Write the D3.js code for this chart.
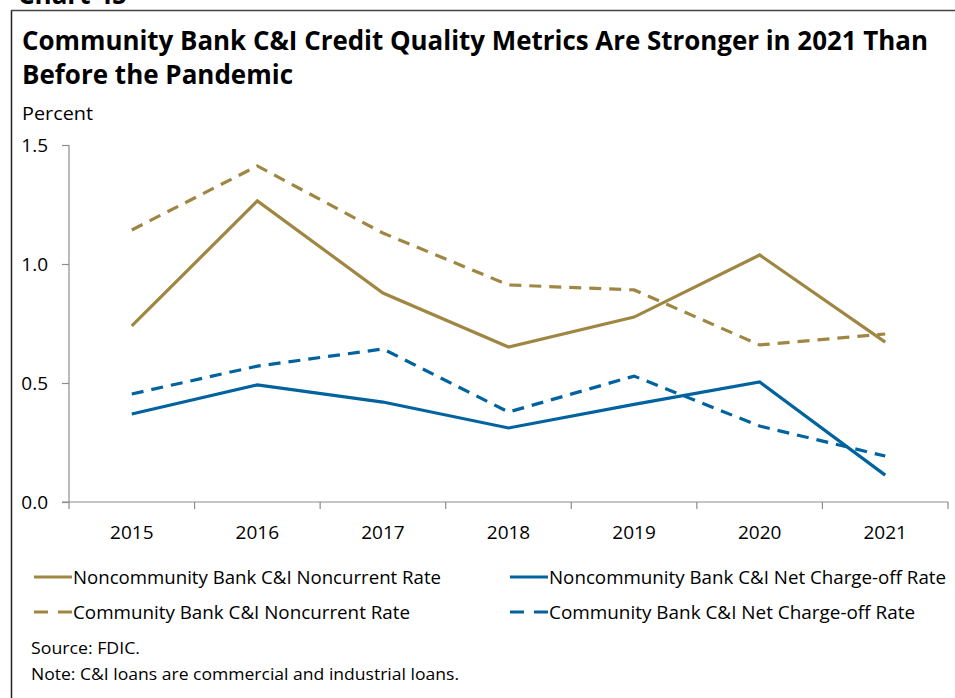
<!DOCTYPE html>
<html><head><meta charset="utf-8">
<script src="https://cdn.jsdelivr.net/npm/d3@7"></script>
<style>body{margin:0;background:#fff}svg{display:block}</style>
</head><body><svg id="c" width="955" height="698"></svg>
<script>
const years = ["2015","2016","2017","2018","2019","2020","2021"];
const noncommNoncurrent = [0.74, 1.265, 0.878, 0.651, 0.777, 1.038, 0.672];
const commNoncurrent    = [1.143, 1.412, 1.13, 0.912, 0.891, 0.66, 0.706];
const noncommNCO        = [0.37, 0.492, 0.42, 0.311, 0.41, 0.504, 0.113];
const commNCO           = [0.454, 0.571, 0.643, 0.378, 0.529, 0.319, 0.193];
const yTicks = [0, 0.5, 1.0, 1.5];
const seriesNames = ["Noncommunity Bank C&I Noncurrent Rate","Noncommunity Bank C&I Net Charge-off Rate","Community Bank C&I Noncurrent Rate","Community Bank C&I Net Charge-off Rate"];

const GOLD = "#9F8743", BLUE = "#0063A0";
const series = [
  {name: seriesNames[0], values: noncommNoncurrent, color: GOLD, dash: null},
  {name: seriesNames[1], values: noncommNCO, color: BLUE, dash: null},
  {name: seriesNames[2], values: commNoncurrent, color: GOLD, dash: "12,8"},
  {name: seriesNames[3], values: commNCO, color: BLUE, dash: "12,8"}
];

const svg = d3.select("#c");
const font = "'Open Sans', 'Noto Sans', sans-serif";

// frame
svg.append("line").attr("x1",11.5).attr("x2",11.5).attr("y1",10).attr("y2",698).attr("stroke","#222").attr("stroke-width",1.5);
svg.append("line").attr("x1",11).attr("x2",955).attr("y1",10.5).attr("y2",10.5).attr("stroke","#444").attr("stroke-width",1.5);
svg.append("text").attr("x",18).attr("y",4).attr("font-family",font).attr("font-weight","bold").attr("font-size",26).attr("fill","#000").text("Chart 45");

// title
svg.append("text").attr("x",22).attr("y",50).attr("font-family",font).attr("font-weight","bold").attr("font-size",26).attr("fill","#000")
  .attr("textLength",906).attr("lengthAdjust","spacingAndGlyphs").text("Community Bank C&I Credit Quality Metrics Are Stronger in 2021 Than");
svg.append("text").attr("x",22).attr("y",84).attr("font-family",font).attr("font-weight","bold").attr("font-size",26).attr("fill","#000")
  .attr("textLength",271).attr("lengthAdjust","spacingAndGlyphs").text("Before the Pandemic");
svg.append("text").attr("x",22).attr("y",120).attr("font-family",font).attr("font-size",19).attr("fill","#000")
  .attr("textLength",71).attr("lengthAdjust","spacingAndGlyphs").text("Percent");

const x = d3.scaleBand().domain(years).range([69, 948]);
const y = d3.scaleLinear().domain([0, 1.5]).range([502, 145]);

// y axis
const yAxis = svg.append("g").attr("transform","translate(69,0)")
  .call(d3.axisLeft(y).tickValues(yTicks).tickFormat(d3.format(".1f")).tickSize(7).tickPadding(14));
yAxis.select(".domain").attr("stroke","#8c8c8c").attr("stroke-width",1.2).attr("d","M0,145V502");
yAxis.selectAll(".tick line").attr("stroke","#8c8c8c").attr("stroke-width",1.2);
yAxis.selectAll(".tick text").attr("font-family",font).attr("font-size",19).attr("fill","#000").attr("dy","0.36em");

// x axis
const xAxis = svg.append("g").attr("transform","translate(0,502)")
  .call(d3.axisBottom(x).tickSize(0).tickPadding(24));
xAxis.select(".domain").attr("stroke","#8c8c8c").attr("stroke-width",1.2).attr("d","M62,0H948");
xAxis.selectAll(".tick text").attr("font-family",font).attr("font-size",19).attr("fill","#000");
const bounds = years.map(d => x(d)).concat([x.range()[1]]);
svg.append("g").selectAll("line").data(bounds).join("line")
  .attr("x1",d=>d).attr("x2",d=>d).attr("y1",502).attr("y2",509).attr("stroke","#8c8c8c").attr("stroke-width",1.2);

// lines
const line = d3.line().x((d,i)=>x(years[i]) + x.bandwidth()/2).y(d=>y(d));
series.forEach(s => {
  svg.append("path").datum(s.values).attr("d",line).attr("fill","none")
    .attr("stroke",s.color).attr("stroke-width",3.2).attr("stroke-dasharray",s.dash);
});

// legend
const legPos = [[34,577,368],[510,577,397],[34,612,337],[510,612,366]];
series.forEach((s,i) => {
  const [lx,ly,tw] = legPos[i];
  svg.append("line").attr("x1",lx).attr("x2",lx+38).attr("y1",ly).attr("y2",ly)
    .attr("stroke",s.color).attr("stroke-width",3.2).attr("stroke-dasharray",s.dash ? "14,10" : null);
  svg.append("text").attr("x",lx+39).attr("y",ly+7).attr("font-family",font).attr("font-size",19).attr("fill","#000")
    .attr("textLength",tw).attr("lengthAdjust","spacingAndGlyphs").text(s.name);
});

svg.append("text").attr("x",31).attr("y",654).attr("font-family",font).attr("font-size",17).attr("fill","#000")
  .attr("textLength",109).attr("lengthAdjust","spacingAndGlyphs").text("Source:  FDIC.");
svg.append("text").attr("x",31).attr("y",680).attr("font-family",font).attr("font-size",17).attr("fill","#000")
  .attr("textLength",428).attr("lengthAdjust","spacingAndGlyphs").text("Note: C&I loans are commercial  and industrial loans.");
</script></body></html>
